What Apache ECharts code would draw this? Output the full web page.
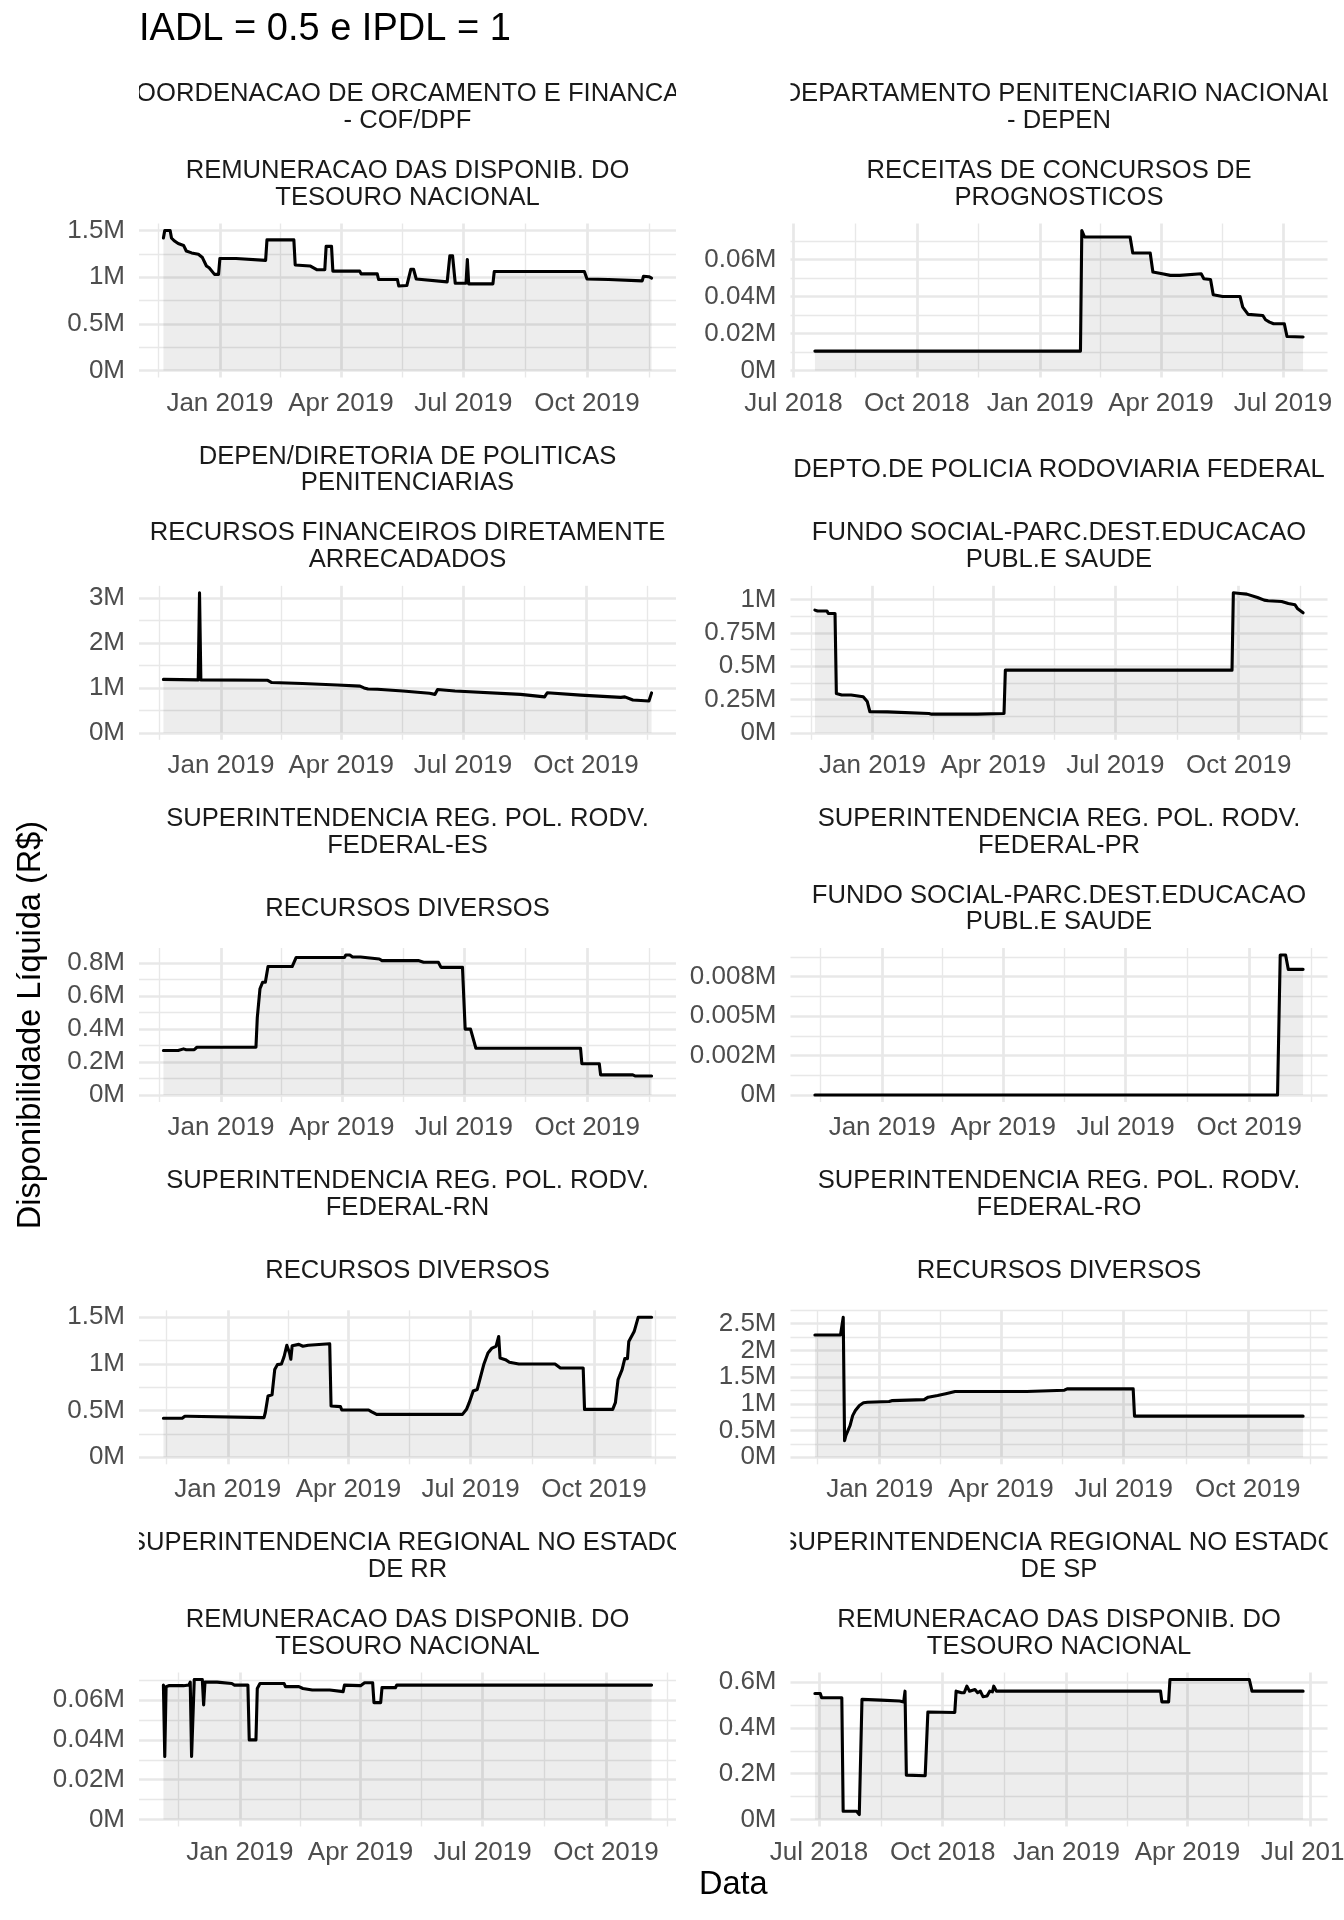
<!DOCTYPE html>
<html>
<head>
<meta charset="utf-8">
<script src="https://cdn.jsdelivr.net/npm/echarts@6/dist/echarts.min.js"></script>
<style>
html,body{margin:0;padding:0;background:#ffffff;}
#chart{width:1344px;height:1920px;}
</style>
</head>
<body>
<div id="chart"></div>
<script>
// ---------------- DATA ----------------
const chartTitle = 'IADL = 0.5 e IPDL = 1';
const yAxisTitle = 'Disponibilidade Líquida (R$)';
const xAxisTitle = 'Data';

const orgaos = [
  'COORDENACAO DE ORCAMENTO E FINANCAS\n- COF/DPF',
  'DEPARTAMENTO PENITENCIARIO NACIONAL\n- DEPEN',
  'DEPEN/DIRETORIA DE POLITICAS\nPENITENCIARIAS',
  'DEPTO.DE POLICIA RODOVIARIA FEDERAL',
  'SUPERINTENDENCIA REG. POL. RODV.\nFEDERAL-ES',
  'SUPERINTENDENCIA REG. POL. RODV.\nFEDERAL-PR',
  'SUPERINTENDENCIA REG. POL. RODV.\nFEDERAL-RN',
  'SUPERINTENDENCIA REG. POL. RODV.\nFEDERAL-RO',
  'SUPERINTENDENCIA REGIONAL NO ESTADO\nDE RR',
  'SUPERINTENDENCIA REGIONAL NO ESTADO\nDE SP'
];
const fontes = [
  'REMUNERACAO DAS DISPONIB. DO\nTESOURO NACIONAL',
  'RECEITAS DE CONCURSOS DE\nPROGNOSTICOS',
  'RECURSOS FINANCEIROS DIRETAMENTE\nARRECADADOS',
  'FUNDO SOCIAL-PARC.DEST.EDUCACAO\nPUBL.E SAUDE',
  'RECURSOS DIVERSOS',
  'FUNDO SOCIAL-PARC.DEST.EDUCACAO\nPUBL.E SAUDE',
  'RECURSOS DIVERSOS',
  'RECURSOS DIVERSOS',
  'REMUNERACAO DAS DISPONIB. DO\nTESOURO NACIONAL',
  'REMUNERACAO DAS DISPONIB. DO\nTESOURO NACIONAL'
];

// values in millions of R$
const sCOF = [["2018-11-20",1.42],["2018-11-21",1.50],["2018-11-25",1.50],["2018-11-26",1.42],["2018-11-28",1.39],["2018-12-01",1.36],["2018-12-05",1.34],["2018-12-07",1.28],["2018-12-11",1.26],["2018-12-16",1.245],["2018-12-19",1.21],["2018-12-22",1.12],["2018-12-24",1.10],["2018-12-28",1.03],["2018-12-31",1.03],["2019-01-01",1.20],["2019-01-13",1.20],["2019-01-14",1.18],["2019-02-04",1.18],["2019-02-05",1.40],["2019-02-25",1.40],["2019-02-26",1.13],["2019-03-09",1.12],["2019-03-14",1.08],["2019-03-20",1.08],["2019-03-21",1.33],["2019-03-25",1.33],["2019-03-26",1.065],["2019-04-15",1.065],["2019-04-16",1.035],["2019-04-28",1.035],["2019-04-29",0.975],["2019-05-13",0.975],["2019-05-14",0.905],["2019-05-20",0.91],["2019-05-23",1.085],["2019-05-25",1.085],["2019-05-27",0.98],["2019-06-19",0.95],["2019-06-21",1.23],["2019-06-23",1.23],["2019-06-25",0.935],["2019-07-03",0.935],["2019-07-04",1.19],["2019-07-05",0.928],["2019-07-23",0.928],["2019-07-24",1.06],["2019-09-29",1.06],["2019-10-01",0.98],["2019-10-17",0.975],["2019-10-18",0.96],["2019-11-11",0.96],["2019-11-12",1.01],["2019-11-16",1.005],["2019-11-18",0.99]];
const sDEPEN = [["2018-07-17",0.0105],["2019-01-31",0.0105],["2019-02-01",0.0758],["2019-02-03",0.0723],["2019-03-09",0.0723],["2019-03-11",0.0636],["2019-03-24",0.0636],["2019-03-26",0.0533],["2019-04-02",0.0524],["2019-04-08",0.0515],["2019-04-15",0.0515],["2019-04-16",0.0524],["2019-05-01",0.0524],["2019-05-03",0.0497],["2019-05-08",0.0493],["2019-05-10",0.041],["2019-05-17",0.0401],["2019-05-30",0.0401],["2019-06-01",0.0343],["2019-06-05",0.0304],["2019-06-16",0.0298],["2019-06-18",0.0275],["2019-06-21",0.0262],["2019-06-24",0.0253],["2019-07-02",0.0253],["2019-07-04",0.0184],["2019-07-16",0.0181]];
const sDPP = [["2018-11-19",1.19],["2018-12-15",1.18],["2018-12-16",3.12],["2018-12-17",1.18],["2019-02-05",1.17],["2019-02-08",1.12],["2019-03-03",1.10],["2019-03-29",1.065],["2019-04-15",1.04],["2019-04-18",1.0],["2019-04-21",0.975],["2019-04-28",0.97],["2019-05-17",0.93],["2019-06-06",0.88],["2019-06-10",0.856],["2019-06-12",0.965],["2019-06-25",0.93],["2019-08-13",0.856],["2019-08-31",0.80],["2019-09-02",0.893],["2019-09-27",0.84],["2019-10-27",0.79],["2019-10-30",0.80],["2019-11-05",0.73],["2019-11-17",0.71],["2019-11-19",0.89]];
const sDPRF = [["2018-11-19",0.92],["2018-11-21",0.913],["2018-11-28",0.913],["2018-11-29",0.895],["2018-12-04",0.895],["2018-12-05",0.295],["2018-12-09",0.283],["2018-12-16",0.283],["2018-12-17",0.27],["2018-12-25",0.27],["2018-12-28",0.235],["2018-12-29",0.2325],["2018-12-30",0.158],["2019-01-12",0.157],["2019-01-13",0.145],["2019-02-12",0.145],["2019-02-14",0.14],["2019-03-20",0.14],["2019-03-21",0.145],["2019-04-09",0.145],["2019-04-10",0.47],["2019-09-26",0.47],["2019-09-27",1.05],["2019-10-02",1.045],["2019-10-07",1.04],["2019-10-15",1.015],["2019-10-20",0.995],["2019-10-23",0.99],["2019-11-02",0.985],["2019-11-07",0.97],["2019-11-12",0.96],["2019-11-14",0.93],["2019-11-18",0.90]];
const sES = [["2018-11-19",0.27],["2018-11-30",0.27],["2018-12-01",0.28],["2018-12-04",0.28],["2018-12-06",0.275],["2018-12-12",0.275],["2018-12-14",0.29],["2019-01-27",0.29],["2019-01-28",0.47],["2019-01-30",0.645],["2019-02-01",0.685],["2019-02-03",0.685],["2019-02-05",0.78],["2019-02-23",0.78],["2019-02-26",0.835],["2019-04-03",0.835],["2019-04-04",0.85],["2019-04-07",0.85],["2019-04-09",0.838],["2019-04-15",0.838],["2019-04-16",0.826],["2019-04-29",0.826],["2019-05-01",0.816],["2019-05-28",0.816],["2019-06-01",0.806],["2019-06-12",0.806],["2019-06-14",0.775],["2019-06-30",0.775],["2019-07-02",0.40],["2019-07-06",0.40],["2019-07-10",0.284],["2019-09-26",0.284],["2019-09-27",0.19],["2019-10-10",0.19],["2019-10-11",0.122],["2019-11-04",0.122],["2019-11-06",0.115],["2019-11-18",0.115]];
const sPR = [["2018-11-12",0],["2019-10-22",0],["2019-10-24",0.00887],["2019-10-28",0.00887],["2019-10-30",0.00796],["2019-11-10",0.00796]];
const sRN = [["2018-11-14",0.418],["2018-11-28",0.418],["2018-11-30",0.44],["2018-12-02",0.44],["2018-12-03",0.425],["2019-01-28",0.425],["2019-01-29",0.48],["2019-01-31",0.656],["2019-02-03",0.67],["2019-02-05",0.94],["2019-02-07",0.993],["2019-02-10",1.0],["2019-02-12",1.08],["2019-02-14",1.2],["2019-02-15",1.22],["2019-02-16",1.12],["2019-02-17",1.05],["2019-02-18",1.195],["2019-02-23",1.21],["2019-02-26",1.19],["2019-03-02",1.2],["2019-03-18",1.216],["2019-03-19",0.55],["2019-03-26",0.543],["2019-03-27",0.507],["2019-04-16",0.507],["2019-04-18",0.49],["2019-04-22",0.46],["2019-06-25",0.46],["2019-06-28",0.514],["2019-06-30",0.585],["2019-07-03",0.71],["2019-07-06",0.727],["2019-07-11",1.0],["2019-07-14",1.117],["2019-07-17",1.17],["2019-07-20",1.188],["2019-07-22",1.294],["2019-07-23",1.064],["2019-07-27",1.046],["2019-07-30",1.018],["2019-08-06",1.0],["2019-09-02",1.0],["2019-09-06",0.957],["2019-09-23",0.957],["2019-09-24",0.514],["2019-10-15",0.514],["2019-10-17",0.585],["2019-10-19",0.833],["2019-10-22",0.94],["2019-10-24",1.057],["2019-10-26",1.057],["2019-10-27",1.241],["2019-10-31",1.347],["2019-11-01",1.365],["2019-11-03",1.5],["2019-11-13",1.5]];
const sRO = [["2018-11-14",2.29],["2018-12-03",2.29],["2018-12-05",2.62],["2018-12-06",0.31],["2018-12-07",0.41],["2018-12-10",0.59],["2018-12-12",0.78],["2018-12-14",0.875],["2018-12-17",0.97],["2018-12-20",1.02],["2018-12-23",1.03],["2019-01-08",1.044],["2019-01-10",1.06],["2019-02-03",1.08],["2019-02-06",1.125],["2019-02-13",1.156],["2019-02-19",1.19],["2019-02-26",1.23],["2019-04-20",1.23],["2019-04-21",1.256],["2019-05-18",1.256],["2019-05-20",1.28],["2019-07-08",1.28],["2019-07-09",0.77],["2019-11-11",0.77]];
const sRR = [["2018-11-05",0.0675],["2018-11-06",0.0317],["2018-11-07",0.0667],["2018-11-09",0.0672],["2018-11-20",0.0672],["2018-11-21",0.0667],["2018-11-24",0.0675],["2018-11-25",0.069],["2018-11-26",0.0317],["2018-11-27",0.0317],["2018-11-28",0.0703],["2018-12-04",0.0703],["2018-12-05",0.0575],["2018-12-06",0.069],["2018-12-15",0.069],["2018-12-16",0.0683],["2018-12-26",0.0683],["2018-12-28",0.0675],["2019-01-07",0.0675],["2019-01-08",0.04],["2019-01-13",0.04],["2019-01-14",0.0658],["2019-01-16",0.0683],["2019-02-03",0.0683],["2019-02-04",0.0667],["2019-02-14",0.0667],["2019-02-17",0.0658],["2019-02-24",0.065],["2019-03-09",0.065],["2019-03-10",0.0658],["2019-03-19",0.0642],["2019-03-20",0.0675],["2019-04-01",0.0672],["2019-04-04",0.0687],["2019-04-10",0.0687],["2019-04-11",0.0587],["2019-04-16",0.0587],["2019-04-17",0.0662],["2019-04-27",0.0662],["2019-04-28",0.0675],["2019-06-25",0.0675],["2019-06-26",0.0668],["2019-06-27",0.0675],["2019-11-04",0.0675]];
const sSP = [["2018-06-28",0.551],["2018-07-02",0.551],["2018-07-03",0.532],["2018-07-18",0.532],["2018-07-19",0.036],["2018-07-29",0.036],["2018-07-31",0.0216],["2018-08-01",0.019],["2018-08-02",0.525],["2018-08-16",0.522],["2018-08-30",0.518],["2018-09-02",0.514],["2018-09-03",0.561],["2018-09-04",0.194],["2018-09-18",0.191],["2018-09-20",0.47],["2018-10-10",0.468],["2018-10-11",0.561],["2018-10-15",0.554],["2018-10-17",0.554],["2018-10-19",0.583],["2018-10-21",0.561],["2018-10-25",0.568],["2018-10-27",0.554],["2018-10-29",0.561],["2018-10-31",0.537],["2018-11-03",0.54],["2018-11-05",0.561],["2018-11-07",0.558],["2018-11-08",0.583],["2018-11-10",0.561],["2019-03-12",0.561],["2019-03-13",0.514],["2019-03-18",0.514],["2019-03-19",0.612],["2019-05-17",0.612],["2019-05-19",0.561],["2019-06-26",0.561]];

const panelSeries = [sCOF, sDEPEN, sDPP, sDPRF, sES, sPR, sRN, sRO, sRR, sSP];

// quarterly date breaks (one extra on each side, used for the minor grid)
const xBreaksA = ["2018-07-01","2018-10-01","2019-01-01","2019-04-01","2019-07-01","2019-10-01","2020-01-01"];
const xBreaksB = ["2018-04-01","2018-07-01","2018-10-01","2019-01-01","2019-04-01","2019-07-01","2019-10-01"];
const panelXBreaks = [xBreaksA, xBreaksB, xBreaksA, xBreaksA, xBreaksA, xBreaksA, xBreaksA, xBreaksA, xBreaksA, xBreaksB];
const monthNames = ['Jan','Feb','Mar','Apr','May','Jun','Jul','Aug','Sep','Oct','Nov','Dec'];

const yTicks = [
  [0,0.5,1,1.5],
  [0,0.02,0.04,0.06,0.08],
  [0,1,2,3],
  [0,0.25,0.5,0.75,1],
  [0,0.2,0.4,0.6,0.8],
  [0,0.0025,0.005,0.0075],
  [0,0.5,1,1.5],
  [0,0.5,1,1.5,2,2.5],
  [0,0.02,0.04,0.06],
  [0,0.2,0.4,0.6]
];
const yTickLabels = [
  ['0M','0.5M','1M','1.5M'],
  ['0M','0.02M','0.04M','0.06M','0.08M'],
  ['0M','1M','2M','3M'],
  ['0M','0.25M','0.5M','0.75M','1M'],
  ['0M','0.2M','0.4M','0.6M','0.8M'],
  ['0M','0.002M','0.005M','0.008M'],
  ['0M','0.5M','1M','1.5M'],
  ['0M','0.5M','1M','1.5M','2M','2.5M'],
  ['0M','0.02M','0.04M','0.06M'],
  ['0M','0.2M','0.4M','0.6M']
];

// ---------------- LAYOUT ----------------
const FONT = '"Liberation Sans", Arial, Helvetica, sans-serif';
const colLeft = [139, 790.5];
const panelW = 537;
const rowTop = [223.5, 585.8, 948, 1310.3, 1672.5];
const panelH = 154;
const gridColor = '#E8E8E8';

function toTime(s) { const p = s.split('-').map(Number); return Date.UTC(p[0], p[1] - 1, p[2]); }

const grids = [], xAxes = [], yAxes = [], series = [], graphics = [];

panelSeries.forEach((raw, i) => {
  const col = i % 2, row = Math.floor(i / 2);
  const left = colLeft[col], top = rowTop[row];
  grids.push({ left: left, top: top, width: panelW, height: panelH, containLabel: false, outerBoundsMode: 'none' });

  const data = raw.map(p => [toTime(p[0]), p[1]]);
  const t0 = data[0][0], t1 = data[data.length - 1][0];
  const xPad = (t1 - t0) * 0.05;
  const xMin = t0 - xPad, xMax = t1 + xPad;
  const vmax = Math.max.apply(null, data.map(p => p[1]));
  const yMin = -0.05 * vmax, yMax = 1.05 * vmax;

  const xb = panelXBreaks[i].map(toTime);
  const xMajor = xb.filter(v => v >= xMin && v <= xMax);
  const xMinor = [];
  for (let k = 1; k < xb.length; k++) { const m = (xb[k - 1] + xb[k]) / 2; if (m >= xMin && m <= xMax) xMinor.push(m); }

  const yt = yTicks[i];
  const yMajor = yt.filter(v => v >= yMin && v <= yMax);
  const step = yt[1] - yt[0];
  const yMinor = [yt[0] - step / 2].concat(yt.map(v => v + step / 2)).filter(v => v >= yMin && v <= yMax);

  const hidden = { show: false };
  xAxes.push({
    gridIndex: i, type: 'value', min: xMin, max: xMax, position: 'bottom',
    axisLine: hidden, axisTick: { show: false, customValues: xMajor },
    axisLabel: {
      customValues: xMajor, margin: 13, fontSize: 26, fontFamily: FONT, color: '#4D4D4D',
      formatter: v => { const d = new Date(v); return monthNames[d.getUTCMonth()] + ' ' + d.getUTCFullYear(); }
    },
    splitLine: { show: true, lineStyle: { color: gridColor, width: 2.7 } }
  });
  xAxes.push({
    gridIndex: i, type: 'value', min: xMin, max: xMax, position: 'top',
    axisLine: hidden, axisTick: { show: false, customValues: xMinor },
    axisLabel: { show: false, customValues: xMinor },
    splitLine: { show: true, lineStyle: { color: gridColor, width: 1.35 } }
  });
  yAxes.push({
    gridIndex: i, type: 'value', min: yMin, max: yMax, position: 'left',
    axisLine: hidden, axisTick: { show: false, customValues: yMajor },
    axisLabel: {
      customValues: yMajor, margin: 14, fontSize: 26, fontFamily: FONT, color: '#4D4D4D',
      formatter: v => { const k = yt.findIndex(t => Math.abs(t - v) < 1e-12); return k >= 0 ? yTickLabels[i][k] : ''; }
    },
    splitLine: { show: true, lineStyle: { color: gridColor, width: 2.7 } }
  });
  yAxes.push({
    gridIndex: i, type: 'value', min: yMin, max: yMax, position: 'right',
    axisLine: hidden, axisTick: { show: false, customValues: yMinor },
    axisLabel: { show: false, customValues: yMinor },
    splitLine: { show: true, lineStyle: { color: gridColor, width: 1.35 } }
  });

  series.push({
    type: 'line', xAxisIndex: 2 * i, yAxisIndex: 2 * i, data: data,
    symbol: 'none', showSymbol: false, animation: false, silent: true,
    lineStyle: { color: '#000000', width: 3.1, join: 'round', cap: 'round' },
    areaStyle: { color: 'rgba(0,0,0,0.1)', origin: 'auto' },
    z: 3
  });

  const cx = left + panelW / 2;
  graphics.push({
    type: 'text', x: cx, y: top - 115.8, z: 10,
    style: { text: orgaos[i], font: '25.6px ' + FONT, fill: '#1A1A1A', align: 'center', verticalAlign: 'middle', textAlign: 'center', textVerticalAlign: 'middle', lineHeight: 26.6 }
  });
  graphics.push({
    type: 'text', x: cx, y: top - 39.2, z: 10,
    style: { text: fontes[i], font: '25.6px ' + FONT, fill: '#1A1A1A', align: 'center', verticalAlign: 'middle', textAlign: 'center', textVerticalAlign: 'middle', lineHeight: 26.6 }
  });
});

// strip text is clipped to the panel width
[0, 4].forEach(row => {
  const y0 = rowTop[row] - 146, h = 60;
  [[0, colLeft[0]], [colLeft[0] + panelW, colLeft[1]], [colLeft[1] + panelW, 1344]].forEach(r => {
    graphics.push({ type: 'rect', z: 20, shape: { x: r[0], y: y0, width: r[1] - r[0], height: h }, style: { fill: '#ffffff' } });
  });
});

graphics.push({
  type: 'text', x: 139, y: 29.5, z: 10,
  style: { text: chartTitle, font: '38px ' + FONT, fill: '#000000', align: 'left', verticalAlign: 'middle', textAlign: 'left', textVerticalAlign: 'middle' }
});
graphics.push({
  type: 'text', x: 31, y: 1025, rotation: Math.PI / 2, z: 10,
  style: { text: yAxisTitle, font: '32.5px ' + FONT, fill: '#000000', align: 'center', verticalAlign: 'middle', textAlign: 'center', textVerticalAlign: 'middle' }
});
graphics.push({
  type: 'text', x: 733.3, y: 1885, z: 10,
  style: { text: xAxisTitle, font: '32.5px ' + FONT, fill: '#000000', align: 'center', verticalAlign: 'middle', textAlign: 'center', textVerticalAlign: 'middle' }
});

const chart = echarts.init(document.getElementById('chart'), null, { renderer: 'canvas', width: 1344, height: 1920, devicePixelRatio: 1 });
chart.setOption({
  backgroundColor: '#ffffff',
  animation: false,
  grid: grids,
  xAxis: xAxes,
  yAxis: yAxes,
  series: series,
  graphic: { elements: graphics }
});
</script>
</body>
</html>
